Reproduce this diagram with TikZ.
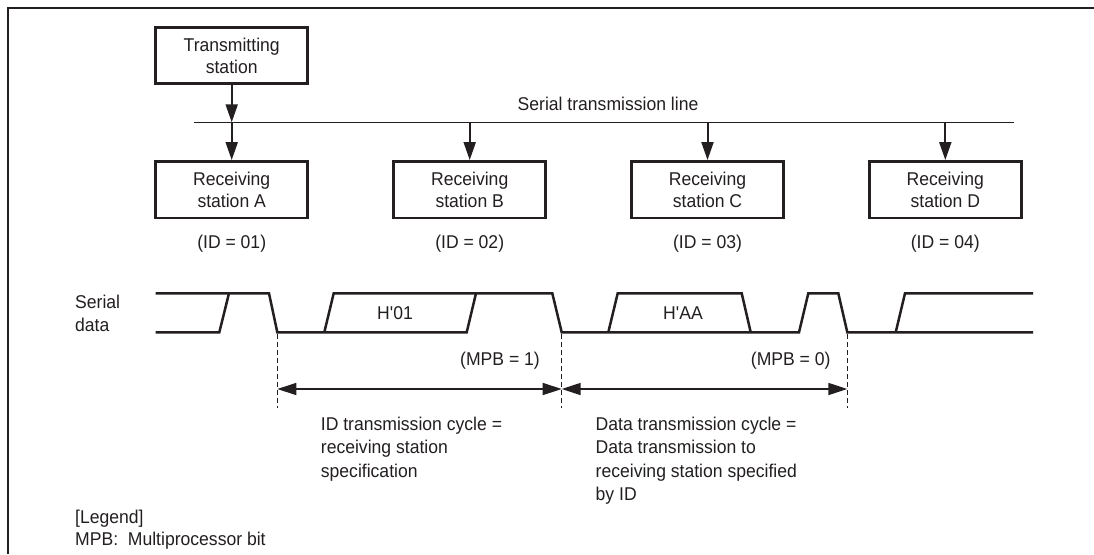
\documentclass[tikz,border=0pt]{standalone}
\usepackage{fontspec}
\setmainfont{Liberation Sans}[FakeStretch=0.95]
\usetikzlibrary{arrows.meta}
\definecolor{ink}{HTML}{231F20}
\begin{document}
\begin{tikzpicture}[x=1pt,y=-1pt,
  every node/.style={text=ink, font=\fontsize{18.5}{22}\selectfont, inner sep=0pt},
  station/.style={draw=ink, line width=2.6pt, minimum width=152pt, minimum height=56.5pt, align=center},
  feed/.style={draw=ink, line width=2pt, -{Triangle[length=18pt,width=12pt]}},
  busline/.style={draw=ink, line width=1.3pt},
  sig/.style={draw=ink, line width=2.5pt, line join=miter},
  guide/.style={draw=ink, line width=1.2pt, dash pattern=on 4.5pt off 3.5pt},
  span/.style={draw=ink, line width=1.6pt, {Triangle[length=19pt,width=12pt]}-{Triangle[length=19pt,width=12pt]}},
  lefttxt/.style={align=left, anchor=north west, font=\fontsize{18.5}{23.5}\selectfont},
  frameline/.style={draw=ink, line width=2pt}]
\useasboundingbox (0,0) rectangle (1094,554);
\fill[white] (0,0) rectangle (1094,554);
% frame (top and left edges)
\draw[frameline] (8.3,554) -- (8.3,8.3) -- (1094,8.3);

% stations
\node[station] (tx) at (231.7,55.5) {Transmitting\\station};
\node[station] (ra) at (231.7,189.6) {Receiving\\station A};
\node[station] (rb) at (469.7,189.6) {Receiving\\station B};
\node[station] (rc) at (707.5,189.6) {Receiving\\station C};
\node[station] (rd) at (945.3,189.6) {Receiving\\station D};

\node (ida) at (231.7,244) {(ID = 01)};
\node (idb) at (469.7,244) {(ID = 02)};
\node (idc) at (707.5,244) {(ID = 03)};
\node (idd) at (945.3,244) {(ID = 04)};

% bus
\coordinate (busL) at (194,122.3);
\coordinate (busR) at (1014,122.3);
\draw[busline] (busL) -- (busR);
\node (buslbl) at (608,104) {Serial transmission line};

\draw[feed] (tx) -- (tx |- busL);
\draw[feed] (ra |- busL) -- (ra);
\draw[feed] (rb |- busL) -- (rb);
\draw[feed] (rc |- busL) -- (rc);
\draw[feed] (rd |- busL) -- (rd);

% serial data waveform
\node[align=left, anchor=west, font=\fontsize{18.5}{23}\selectfont] (sdl) at (75,313.5) {Serial\\data};
\draw[sig] (155.7,293.3) -- (269,293.3) -- (277.3,332.3) -- (466.7,332.3) -- (476,293.3) -- (552.3,293.3)
   -- (561.7,332.3) -- (799,332.3) -- (808.3,293.3) -- (838.3,293.3) -- (847.3,332.3) -- (1033,332.3);
\draw[sig] (155.7,332.3) -- (219.3,332.3) -- (229,293.3);
\draw[sig] (324.3,332.3) -- (333.7,293.3) -- (476,293.3);
\draw[sig] (608.3,332.3) -- (617.7,293.3) -- (741.7,293.3) -- (750.7,332.3);
\draw[sig] (895.7,332.3) -- (905,293.3) -- (1033,293.3);
\node (h01) at (395,313) {H\textquotesingle 01};
\node (haa) at (683,313) {H\textquotesingle AA};
\node (mpb1) at (500,361) {(MPB = 1)};
\node (mpb0) at (790.7,361) {(MPB = 0)};

% guides and spans
\coordinate (g1t) at (277.3,334);
\coordinate (g1b) at (277.3,408);
\coordinate (g2t) at (561.7,334);
\coordinate (g2b) at (561.7,408);
\coordinate (g3t) at (847.3,334);
\coordinate (g3b) at (847.3,408);
\draw[guide] (g1t) -- (g1b);
\draw[guide] (g2t) -- (g2b);
\draw[guide] (g3t) -- (g3b);
\coordinate (s1) at (277.3,389);
\coordinate (s2) at (561.7,389);
\coordinate (s3) at (847.3,389);
\draw[span] (s1) -- (s2);
\draw[span] (s2) -- (s3);

\node[lefttxt] (idcyc) at (320.7,416.5) {ID transmission cycle =\\receiving station\\specification};
\node[lefttxt] (datacyc) at (595.5,416.5) {Data transmission cycle =\\Data transmission to\\receiving station specified\\by ID};

\node[lefttxt, font=\fontsize{18.5}{22}\selectfont] (legend) at (75,510) {[Legend]\\MPB:\ \ Multiprocessor bit};
\end{tikzpicture}
\end{document}
